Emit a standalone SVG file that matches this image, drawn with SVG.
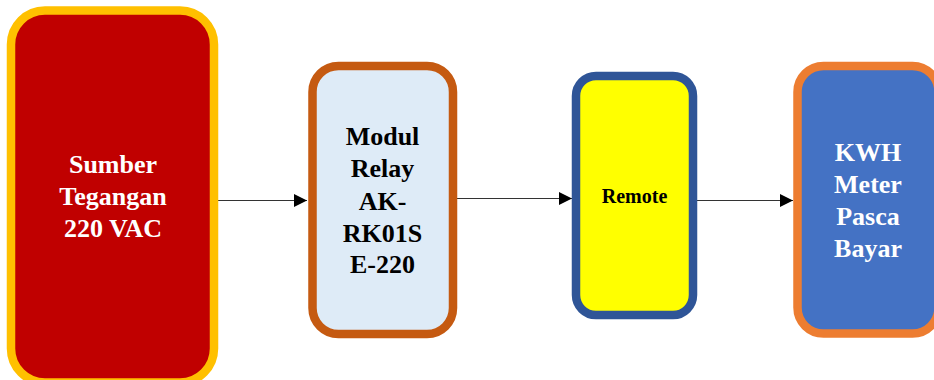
<svg xmlns="http://www.w3.org/2000/svg" width="934" height="380" viewBox="0 0 934 380">
<defs>
<marker id="arr" viewBox="0 0 10 10" refX="10" refY="5" markerWidth="13" markerHeight="13" markerUnits="userSpaceOnUse" orient="auto">
<path d="M0,0 L10,5 L0,10 z" fill="#000"/>
</marker>
<style>
.box{stroke-width:8.5}
.t{font-family:"Liberation Serif","Times New Roman",serif;font-weight:bold;font-size:26px;text-anchor:middle}
.w{fill:#ffffff}
.k{fill:#000000}
.c{stroke:#333;stroke-width:1.2;fill:none;marker-end:url(#arr)}
</style>
</defs>
<rect width="934" height="380" fill="#ffffff"/>
<g id="connectors">
<line class="c" x1="218" y1="200.5" x2="307" y2="200.5"/>
<line class="c" x1="457" y1="198.5" x2="572" y2="198.5"/>
<line class="c" x1="697" y1="200.5" x2="793" y2="200.5"/>
</g>
<g id="sumber">
<rect class="box" x="11" y="10.5" width="203" height="372" rx="34" fill="#C00000" stroke="#FFC000"/>
<text class="t w" x="113" y="173">Sumber</text>
<text class="t w" x="113" y="205">Tegangan</text>
<text class="t w" x="113" y="237">220 VAC</text>
</g>
<g id="relay">
<rect class="box" x="312.5" y="66" width="140.5" height="268" rx="26" fill="#DEEBF7" stroke="#C55A11"/>
<text class="t k" x="382.5" y="145">Modul</text>
<text class="t k" x="382.5" y="177">Relay</text>
<text class="t k" x="382.5" y="210">AK-</text>
<text class="t k" x="382.5" y="242">RK01S</text>
<text class="t k" x="382.5" y="273">E-220</text>
</g>
<g id="remote">
<rect class="box" x="576" y="76" width="117" height="239" rx="20" fill="#FFFF00" stroke="#2F5597"/>
<text class="t k" x="634.5" y="203" style="font-size:20px">Remote</text>
</g>
<g id="kwh">
<rect class="box" x="797.5" y="66" width="141" height="267.5" rx="26" fill="#4472C4" stroke="#ED7D31"/>
<text class="t w" x="868" y="161">KWH</text>
<text class="t w" x="868" y="193">Meter</text>
<text class="t w" x="868" y="225">Pasca</text>
<text class="t w" x="868" y="257">Bayar</text>
</g>
</svg>
